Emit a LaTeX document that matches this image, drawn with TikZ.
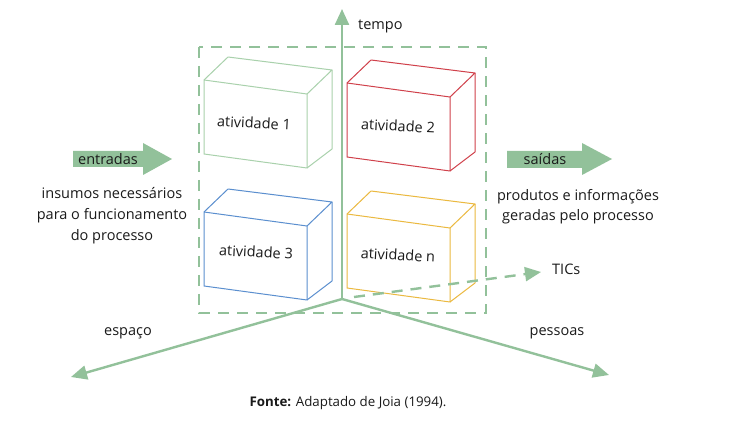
\documentclass[tikz,border=0pt]{standalone}
\usepackage{fontspec}
\setmainfont{Open Sans}
\usetikzlibrary{arrows.meta,calc}
\definecolor{axgreen}{HTML}{92C19A}
\definecolor{boxgreen}{HTML}{A9D1AC}
\definecolor{boxred}{HTML}{D0414B}
\definecolor{boxblue}{HTML}{5B8FCF}
\definecolor{boxyellow}{HTML}{EBB940}
\definecolor{txt}{HTML}{1A1A1A}
\tikzset{
  axis/.style={draw=axgreen, line width=2.4pt, -{Triangle[length=16pt,width=14pt]}},
  dashbox/.style={draw=axgreen, line width=2.4pt, dash pattern=on 11pt off 8pt},
  lbl/.style={font=\fontsize{14.5}{17}\selectfont, text=txt, inner sep=0pt},
  boxline/.style={line width=1.0pt, line join=round},
  bigarrow/.style={fill=axgreen, draw=none},
}
\newcommand{\cube}[4]{% x0, y0, color, name
  \coordinate (#4A) at (#1,#2);
  \coordinate (#4B) at ($(#4A)+(103,14)$);
  \coordinate (#4C) at ($(#4A)+(103,88)$);
  \coordinate (#4D) at ($(#4A)+(0,74)$);
  \coordinate (#4Ab) at ($(#4A)+(24,-23)$);
  \coordinate (#4Bb) at ($(#4B)+(25,-24)$);
  \coordinate (#4Cb) at ($(#4C)+(25,-19)$);
  \draw[boxline, draw=#3] (#4A) -- (#4B) -- (#4C) -- (#4D) -- cycle;
  \draw[boxline, draw=#3] (#4A) -- (#4Ab) -- (#4Bb) -- (#4B);
  \draw[boxline, draw=#3] (#4Bb) -- (#4Cb) -- (#4C);
}
\begin{document}
\begin{tikzpicture}[x=1pt,y=-1pt]
\useasboundingbox (0,0) rectangle (737,422);
\fill[white] (0,0) rectangle (737,422);

% dashed process frame
\draw[dashbox] (199,47) rectangle (486,313);

% cubes
\cube{204}{80}{boxgreen}{c1}
\cube{347}{83}{boxred}{c2}
\cube{204}{212}{boxblue}{c3}
\cube{347}{214}{boxyellow}{cn}

\node[lbl, rotate=-3] (a1) at (254,123) {atividade 1};
\node[lbl, rotate=-3] (a2) at (398,126) {atividade 2};
\node[lbl, rotate=-3] (a3) at (256,252) {atividade 3};
\node[lbl, rotate=-3] (an) at (398,255) {atividade n};

% axes
\coordinate (o) at (342,299);
\coordinate (tempoTip) at (342,9);
\coordinate (espTip) at (71,377);
\coordinate (pesTip) at (609,375);
\coordinate (ticStart) at (354,297);
\coordinate (ticTip) at (541,272);
\draw[axis] (o) -- (tempoTip);
\draw[axis] (o) -- (espTip);
\draw[axis] (o) -- (pesTip);
\draw[draw=axgreen, line width=2.4pt, dash pattern=on 11pt off 8pt, -{Triangle[length=16pt,width=14pt]}] (ticStart) -- (ticTip);

\node[lbl, anchor=west] (tempo) at (358,26) {tempo};
\node[lbl, anchor=west] (tics) at (552,269) {TICs};
\node[lbl] (esp) at (128,333) {espaço};
\node[lbl] (pes) at (557,333) {pessoas};

% entradas / saidas arrows
\fill[bigarrow] (73,151) -- (143,151) -- (143,143) -- (172,159) -- (143,175) -- (143,167) -- (73,167) -- cycle;
\node[lbl] (entr) at (108,159) {entradas};
\fill[bigarrow] (507,151) -- (582,151) -- (582,143) -- (612,159) -- (582,175) -- (582,168) -- (507,168) -- cycle;
\node[lbl] (said) at (545,159) {saídas};

\node[lbl, align=center, font=\fontsize{14.5}{21}\selectfont] (ins) at (112,216) {insumos necessários\\para o funcionamento\\do processo};
\node[lbl, align=center, font=\fontsize{14.5}{20}\selectfont] (prod) at (578,207) {produtos e informações\\geradas pelo processo};

\node[lbl, font=\fontsize{13.3}{15}\selectfont] (fonte) at (348,403) {\textbf{Fonte:} Adaptado de Joia (1994).};
\end{tikzpicture}
\end{document}
